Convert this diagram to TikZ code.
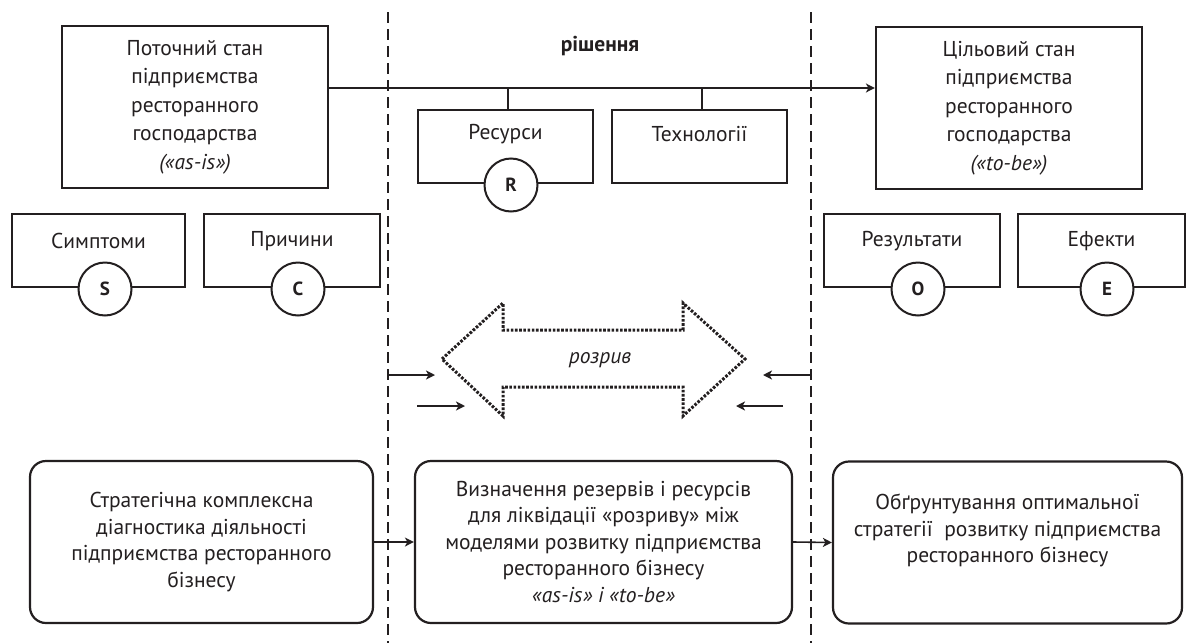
\documentclass[tikz,border=0pt]{standalone}
\usepackage{fontspec}
\setmainfont{PT Sans}
\usetikzlibrary{arrows.meta,calc}
\definecolor{ink}{HTML}{231F20}
\begin{document}
\begin{tikzpicture}[x=1pt,y=-1pt,
  every node/.style={text=ink},
  bigbox/.style={draw=ink, line width=2.2pt, minimum width=266pt, minimum height=162pt,
     align=center, inner sep=0pt, font=\fontsize{21.5}{28.5}\selectfont},
  smallbox/.style={draw=ink, line width=2pt, minimum width=175pt, minimum height=73pt, inner sep=0pt},
  lbl/.style={anchor=center, font=\fontsize{21.5}{25}\selectfont},
  badge/.style={circle, draw=ink, line width=2pt, fill=white, minimum size=53pt, inner sep=0pt,
     font=\bfseries\fontsize{19}{20}\selectfont},
  rbox/.style={draw=ink, line width=2.2pt, rounded corners=16pt, minimum height=162pt,
     align=center, inner sep=0pt, font=\fontsize{21.5}{26.5}\selectfont},
  divider/.style={draw=ink, line width=1.4pt, dash pattern=on 11pt off 6pt},
  conn/.style={draw=ink, line width=1.6pt, -{Stealth[length=9pt,width=9pt,inset=2.5pt]}},
  gapline/.style={draw=ink, line width=3pt, dash pattern=on 2.6pt off 1.6pt, line join=miter}
]
\useasboundingbox (0,0) rectangle (1186,643);

% dividers
\coordinate (d1t) at (388,12); \coordinate (d1b) at (388,643);
\coordinate (d2t) at (811,12); \coordinate (d2b) at (811,643);
\draw[divider] (d1t) -- (d1b);
\draw[divider] (d2t) -- (d2b);

% top state boxes
\node[bigbox] (asis) at (195,107) {Поточний стан\\підприємства\\ресторанного\\господарства\\\textit{(«as-is»)}};
\node[bigbox] (tobe) at (1009,108) {Цільовий стан\\підприємства\\ресторанного\\господарства\\\textit{(«to-be»)}};

% solution
\node[font=\bfseries\fontsize{21.5}{25}\selectfont] (sol) at (600,46) {рішення};
\coordinate (hl) at (0,88);
\draw[conn] (asis.east |- hl) -- (tobe.west |- hl);

\node[smallbox, label={[lbl, yshift=-25pt]north:Ресурси}] (res) at (505.5,146.5) {};
\node[smallbox, label={[lbl, yshift=-25pt]north:Технології}] (tech) at (699.5,146.5) {};
\draw[draw=ink, line width=1.6pt] ($(res.north)+(2.5,0)$) -- ($(res.north |- hl)+(2.5,0)$);
\draw[draw=ink, line width=1.6pt] ($(tech.north)+(2.5,0)$) -- ($(tech.north |- hl)+(2.5,0)$);
\node[badge] (R) at (511,185) {R};

% S C O E boxes
\node[smallbox, minimum width=173pt, label={[lbl, yshift=-28pt]north:Симптоми}] (sym) at (98.5,250.5) {};
\node[smallbox, minimum width=176pt, label={[lbl, yshift=-28pt]north:Причини}] (cau) at (292,250.5) {};
\node[smallbox, minimum width=176pt, label={[lbl, yshift=-28pt]north:Результати}] (out) at (912,250.5) {};
\node[smallbox, minimum width=167pt, label={[lbl, yshift=-28pt]north:Ефекти}] (eff) at (1101.5,250.5) {};
\node[badge] (S) at (105,289) {S};
\node[badge] (C) at (298,289) {C};
\node[badge] (O) at (918,289) {O};
\node[badge] (E) at (1107,289) {E};

% gap double arrow
\draw[gapline] (442,359) -- (503,303) -- (503,330) -- (683,330) -- (683,303) -- (745,359)
   -- (683,416) -- (683,387) -- (503,387) -- (503,416) -- cycle;
\node[font=\itshape\fontsize{21.5}{25}\selectfont] (gap) at (600,360) {розрив};

\coordinate (a1s) at (388,375); \coordinate (a1e) at (435,375);
\coordinate (a2s) at (417,406); \coordinate (a2e) at (465,406);
\coordinate (a3s) at (811,375); \coordinate (a3e) at (763,375);
\coordinate (a4s) at (783,406); \coordinate (a4e) at (736,406);
\draw[conn] (a1s) -- (a1e);
\draw[conn] (a2s) -- (a2e);
\draw[conn] (a3s) -- (a3e);
\draw[conn] (a4s) -- (a4e);

% bottom process boxes
\node[rbox, minimum width=343pt] (diag) at (201.5,542) {Стратегічна комплексна\\діагностика діяльності\\підприємства ресторанного\\бізнесу};
\node[rbox, minimum width=377pt] (res2) at (603.5,542) {Визначення резервів і ресурсів\\для ліквідації «розриву» між\\моделями розвитку підприємства\\ресторанного бізнесу\\\textit{«as-is» і «to-be»}};
\node[rbox, minimum width=349pt, label={[anchor=center, yshift=12pt, align=center, font=\fontsize{21.5}{26.5}\selectfont]center:Обґрунтування оптимальної\\стратегії\ \ розвитку підприємства\\ресторанного бізнесу}] (strat) at (1007.5,542.5) {};

\draw[conn] (diag.east) -- (res2.west);
\draw[conn] (res2.east) -- (strat.west);
\end{tikzpicture}
\end{document}
